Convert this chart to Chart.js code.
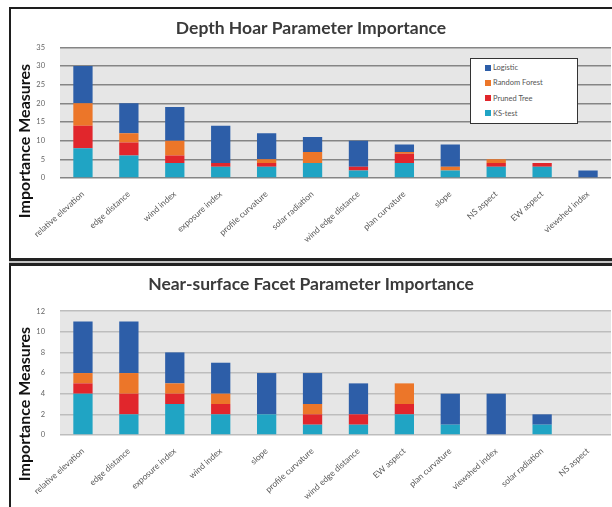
<!DOCTYPE html>
<html>
<head>
<meta charset="utf-8">
<script src="https://cdn.jsdelivr.net/npm/chart.js@4/dist/chart.umd.min.js"></script>
<style>
  body { margin: 0; width: 612px; height: 507px; background: #fff; position: relative; overflow: hidden; font-family: Lato, sans-serif; }
  .panel { position: absolute; left: 9px; width: 700px; border-left: 2px solid #1e1e1e; box-sizing: border-box; }
  #panelTop { top: 7px; height: 252px; border-top: 2px solid #1e1e1e; }
  #sep { position: absolute; left: 9px; top: 258px; width: 700px; height: 8px; box-sizing: border-box; border-top: 3px solid #222; border-bottom: 3px solid #222; background: #c4c4c4; }
  #panelBottom { top: 266px; height: 260px; }
  canvas { position: absolute; left: 11px; }
  #hoarChart { top: 9px; }
  #facetChart { top: 267px; }
  .ytitle { position: absolute; transform: translate(-50%, -50%) rotate(-90deg); font: bold 16px Lato, sans-serif; color: #111; white-space: nowrap; }
  #legend { position: absolute; left: 470px; top: 58px; width: 108px; height: 66px; box-sizing: border-box; border: 1.5px solid #333; background: #fff; padding: 3px 0 0 14px; }
  #legend div { font: 7.5px Lato, sans-serif; color: #555; height: 15.3px; line-height: 12px; }
  #legend span { display: inline-block; width: 6px; height: 6px; margin-right: 2px; vertical-align: -0.5px; }
</style>
</head>
<body>
<div class="panel" id="panelTop"></div>
<div id="sep"></div>
<div class="panel" id="panelBottom"></div>
<canvas id="hoarChart" width="601" height="249"></canvas>
<canvas id="facetChart" width="601" height="240"></canvas>
<div class="ytitle" style="left:23px; top:141px;">Importance Measures</div>
<div class="ytitle" style="left:23px; top:404px;">Importance Measures</div>
<div id="legend"></div>
<script>
// Depth hoar chart
const hoarParams = ["relative elevation", "edge distance", "wind index", "exposure index", "profile curvature", "solar radiation", "wind edge distance", "plan curvature", "slope", "NS aspect", "EW aspect", "viewshed index"];
const hoarKS = [8, 6, 4, 3, 3, 4, 2, 4, 2, 3, 3, 0];
const hoarPruned = [6, 3.5, 2, 1, 1, 0, 1, 2.5, 0, 1, 1, 0];
const hoarForest = [6, 2.5, 4, 0, 1, 3, 0, 0.5, 1, 1, 0, 0];
const hoarLogistic = [10, 8, 9, 10, 7, 4, 7, 2, 6, 0, 0, 2];

// Near-surface facet chart
const facetParams = ["relative elevation", "edge distance", "exposure index", "wind index", "slope", "profile curvature", "wind edge distance", "EW aspect", "plan curvature", "viewshed index", "solar radiation", "NS aspect"];
const facetKS = [4, 2, 3, 2, 2, 1, 1, 2, 1, 0, 1, 0];
const facetPruned = [1, 2, 1, 1, 0, 1, 1, 1, 0, 0, 0, 0];
const facetForest = [1, 2, 1, 1, 0, 1, 0, 2, 0, 0, 0, 0];
const facetLogistic = [5, 5, 3, 3, 4, 3, 3, 0, 3, 4, 1, 0];

const seriesNames = ["KS-test", "Pruned Tree", "Random Forest", "Logistic"];
const seriesColors = ["#20a4c4", "#e1262c", "#ec7629", "#2d5ea8"];

const plotBg = {
  id: "plotBg",
  beforeDraw(chart) {
    const { ctx, chartArea: a } = chart;
    ctx.save();
    ctx.fillStyle = "#e6e6e6";
    ctx.fillRect(a.left, a.top, a.width, a.height);
    ctx.restore();
  }
};

function makeChart(id, title, labels, series, yMax, yStep, gridColor, titlePad, xHeight) {
  return new Chart(document.getElementById(id), {
    type: "bar",
    data: {
      labels: labels,
      datasets: series.map((vals, i) => ({
        label: seriesNames[i],
        data: vals,
        backgroundColor: seriesColors[i],
        barPercentage: 0.42,
        categoryPercentage: 1
      }))
    },
    options: {
      responsive: false,
      animation: false,
      layout: { padding: { left: 0, right: 1, top: 0, bottom: 0 } },
      plugins: {
        legend: { display: false },
        tooltip: { enabled: false },
        title: {
          display: true,
          text: title,
          color: "#3a3a3a",
          font: { family: "Lato", size: 17.5, weight: "bold", lineHeight: 1.2 },
          padding: titlePad
        }
      },
      scales: {
        x: {
          stacked: true,
          grid: { display: false },
          border: { display: false },
          ticks: { color: "#5a5a5a", font: { family: "Lato", size: 8.5 }, minRotation: 42, maxRotation: 42, padding: 3, autoSkip: false },
          afterFit(s) { s.height = xHeight; }
        },
        y: {
          stacked: true,
          min: 0,
          max: yMax,
          border: { display: false },
          grid: { color: gridColor, lineWidth: 1.5, drawTicks: false },
          ticks: { stepSize: yStep, color: "#666", font: { family: "Lato", size: 7.5 }, padding: 15 },
          afterFit(s) { s.width = 49; }
        }
      }
    },
    plugins: [plotBg]
  });
}

const hoarChart = makeChart("hoarChart", "Depth Hoar Parameter Importance", hoarParams,
  [hoarKS, hoarPruned, hoarForest, hoarLogistic], 35, 5, "#858585", { top: 9, bottom: 8.4 }, 80);
makeChart("facetChart", "Near-surface Facet Parameter Importance", facetParams,
  [facetKS, facetPruned, facetForest, facetLogistic], 12, 2, "#bdbdbd", { top: 7.2, bottom: 15.9 }, 72);

// legend box, top series first
const legendEl = document.getElementById("legend");
legendEl.innerHTML = hoarChart.data.datasets.slice().reverse()
  .map(d => `<div><span style="background:${d.backgroundColor}"></span>${d.label}</div>`).join("");
</script>
</body>
</html>
